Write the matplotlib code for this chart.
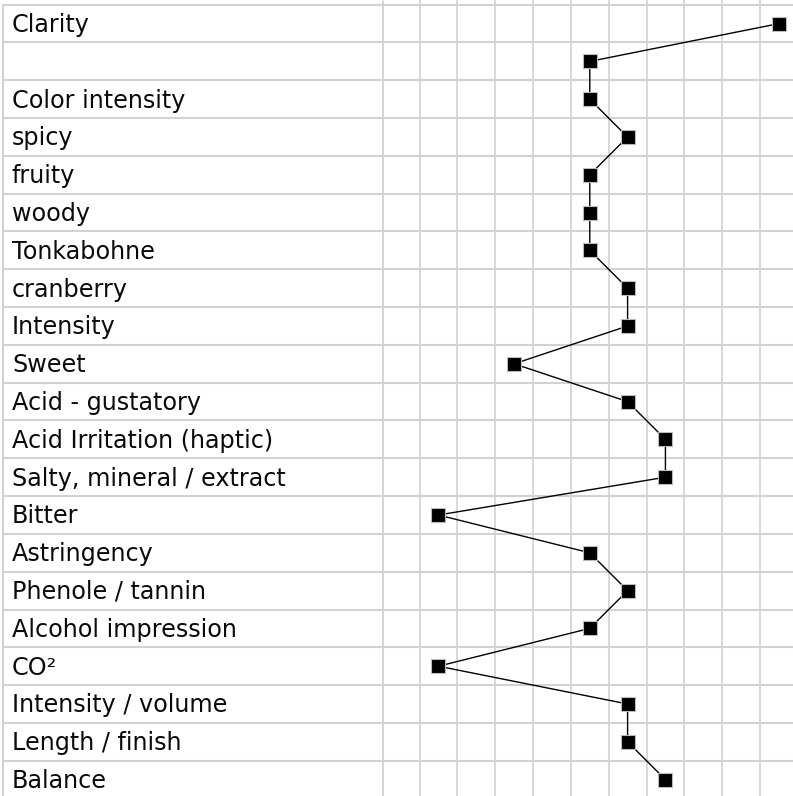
import matplotlib
matplotlib.use("Agg")
import matplotlib.pyplot as plt

# --- data ---
labels = ["Clarity", "", "Color intensity", "spicy", "fruity", "woody",
          "Tonkabohne", "cranberry", "Intensity", "Sweet", "Acid - gustatory",
          "Acid Irritation (haptic)", "Salty, mineral / extract", "Bitter",
          "Astringency", "Phenole / tannin", "Alcohol impression", "CO²",
          "Intensity / volume", "Length / finish", "Balance"]
scores = [10, 5, 5, 6, 5, 5, 5, 6, 6, 3, 6, 7, 7, 1, 5, 6, 5, 1, 6, 6, 7]
n_cells = 11

# --- layout (pixels) ---
W, H = 793, 796
row_h = 37.8
top_px = 4.7
split_px = 381.7
cell_w = 37.83
grid_col = "#d2d2d2"

n_rows = len(labels)
y_top = -0.5 - top_px / row_h
y_bot = -0.5 + (H - top_px) / row_h

fig = plt.figure(figsize=(W / 100, H / 100), dpi=100)

# colonna sinistra con le etichette
axl = fig.add_axes([0, 0, split_px / W, 1])
axl.set_xlim(0, split_px)
axl.set_ylim(y_bot, y_top)
axl.axis("off")
for i in range(n_rows + 1):
    axl.plot([3, split_px], [i - 0.5, i - 0.5], color=grid_col, lw=1.5,
             solid_capstyle="butt")
axl.plot([3, 3], [-0.5, y_bot], color=grid_col, lw=1.5)
for i, lab in enumerate(labels):
    axl.text(12, i + 0.22, lab, fontsize=17.2, va="baseline", ha="left",
             color="#0a0a0a", family="DejaVu Sans")

# area destra: griglia e profilo
ax = fig.add_axes([split_px / W, 0, 1 - split_px / W, 1])
x_right = -0.5 + (W - split_px) / cell_w
ax.set_xlim(-0.5, x_right)
ax.set_ylim(y_bot, y_top)
ax.axis("off")
for k in range(n_cells + 1):
    lw = 2.0 if k == 0 else 1.2
    ax.plot([k - 0.5, k - 0.5], [y_top, y_bot], color=grid_col, lw=lw,
            solid_capstyle="butt")
for i in range(n_rows + 1):
    ax.plot([-0.5, x_right], [i - 0.5, i - 0.5], color=grid_col, lw=1.5,
            solid_capstyle="butt")

ax.plot(scores, range(n_rows), color="black", lw=1.0, marker="s",
        markersize=10, markerfacecolor="black", markeredgecolor="#bbbbbb",
        markeredgewidth=0.8, clip_on=False, zorder=5)

fig.savefig("out.png", dpi=100)
